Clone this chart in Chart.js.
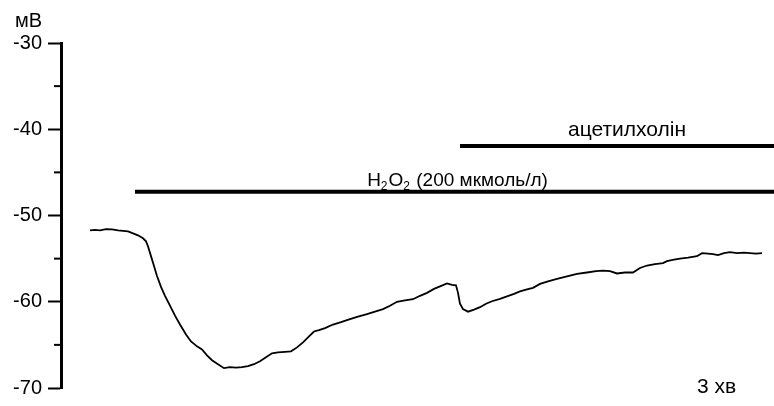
<!DOCTYPE html>
<html>
<head>
<meta charset="utf-8">
<script src="https://cdn.jsdelivr.net/npm/chart.js@4/dist/chart.umd.min.js"></script>
<style>
  html, body { margin: 0; background: #fff; }
  #wrap { width: 774px; height: 406px; }
</style>
</head>
<body>
<div id="wrap"><canvas id="c"></canvas></div>
<script>
/* membrane potential trace (time in arbitrary units) */
const timeT = [29, 34, 39, 45, 51, 57, 62, 67, 72, 77, 82, 85, 87, 90, 93, 96, 100, 104, 109, 114, 119, 125, 130, 136, 141, 146,
  151, 157, 163, 169, 175, 181, 187, 193, 199, 205, 211, 217, 224, 230, 236, 242, 248, 253, 258, 264, 272, 280, 289, 297, 306,
  314, 322, 329, 336, 344, 352, 359, 366, 373, 379, 386, 391, 395, 397, 399, 402, 407, 413, 419, 425, 431, 439, 446, 453, 459,
  466, 472, 479, 487, 496, 506, 516, 526, 535, 542, 549, 556, 564, 572, 579, 586, 594, 602, 606, 613, 619, 627, 636, 641, 647,
  652, 657, 663, 669, 676, 683, 689, 695, 701];
const membraneMv = [-51.72, -51.67, -51.72, -51.57, -51.61, -51.72, -51.78, -51.84, -52.07, -52.30, -52.64, -52.99, -53.56, -54.71, -55.86, -57.01, -58.28, -59.31, -60.46, -61.61, -62.64, -63.79, -64.60, -65.17, -65.52, -66.21,
  -66.78, -67.24, -67.70, -67.59, -67.64, -67.59, -67.47, -67.24, -66.90, -66.44, -65.98, -65.86, -65.80, -65.75, -65.29, -64.71, -64.02, -63.45, -63.28, -63.05, -62.64, -62.36, -62.01, -61.72, -61.44,
  -61.15, -60.86, -60.46, -60.00, -59.83, -59.71, -59.31, -58.97, -58.51, -58.22, -57.87, -58.05, -58.10, -58.97, -60.23, -60.86, -61.15, -60.92, -60.63, -60.23, -59.94, -59.66, -59.37, -59.08, -58.79,
  -58.56, -58.39, -57.93, -57.64, -57.36, -57.07, -56.78, -56.61, -56.44, -56.38, -56.44, -56.72, -56.61, -56.61, -56.09, -55.80, -55.63, -55.52, -55.29, -55.11, -55.00, -54.89, -54.72, -54.37, -54.43,
  -54.48, -54.60, -54.37, -54.25, -54.37, -54.31, -54.37, -54.43, -54.37];

/* application bars */
const h2o2Span = [74, 713];
const h2o2Level = -47.25;
const achSpan = [399, 713];
const achLevel = -41.95;

const yMin = -70, yMax = -30, yStep = 5;
const tMax = 713;

const FONT = "Arial, 'Liberation Sans', sans-serif";

function $(id){ return document.getElementById(id); }

const drawExtras = {
  id: "drawExtras",
  afterDraw(chart) {
    const ctx = chart.ctx;
    const y = chart.scales.y, x = chart.scales.x;
    ctx.save();
    ctx.fillStyle = "#000";
    ctx.strokeStyle = "#000";

    // short minor ticks
    ctx.lineWidth = 2;
    y.ticks.forEach(t => {
      if (t.value % 10 === 0) return;
      const py = y.getPixelForValue(t.value);
      ctx.beginPath();
      ctx.moveTo(y.right - 7, py);
      ctx.lineTo(y.right, py);
      ctx.stroke();
    });

    // unit
    ctx.font = "20px " + FONT;
    ctx.textAlign = "right";
    ctx.textBaseline = "alphabetic";
    ctx.fillText("мВ", y.right - 19, y.top - 16);

    // acetylcholine label
    ctx.font = "21px " + FONT;
    ctx.textAlign = "center";
    const achCx = (x.getPixelForValue(achSpan[0]) + x.getPixelForValue(achSpan[1])) / 2 + 10;
    ctx.fillText("ацетилхолін", achCx, y.getPixelForValue(achLevel) - 10);

    // H2O2 label with subscripts
    const big = "19px " + FONT, small = "12px " + FONT;
    const parts = [["H", big, 0], ["2", small, 4], ["O", big, 0], ["2", small, 4], [" (200 мкмоль/л)", big, 0]];
    let w = 0;
    parts.forEach(p => { ctx.font = p[1]; w += ctx.measureText(p[0]).width; });
    let cx = (x.getPixelForValue(h2o2Span[0]) + x.getPixelForValue(h2o2Span[1])) / 2 - w / 2 + 2;
    const by = y.getPixelForValue(h2o2Level) - 6;
    ctx.textAlign = "left";
    parts.forEach(p => {
      ctx.font = p[1];
      ctx.fillText(p[0], cx, by + p[2]);
      cx += ctx.measureText(p[0]).width + (p[1] === small ? 1 : 0);
    });

    // time note
    ctx.font = "21px " + FONT;
    ctx.textBaseline = "middle";
    ctx.fillText("3 хв", 697, y.getPixelForValue(yMin) - 1);
    ctx.restore();
  }
};

new Chart($("c"), {
  type: "line",
  data: {
    datasets: [
      {
        label: "trace",
        data: timeT.map((t, i) => ({ x: t, y: membraneMv[i] })),
        borderColor: "#000",
        borderWidth: 1.8,
        pointRadius: 0,
        tension: 0
      },
      {
        label: "H2O2",
        data: h2o2Span.map(t => ({ x: t, y: h2o2Level })),
        borderColor: "#000",
        borderWidth: 4,
        pointRadius: 0
      },
      {
        label: "ach",
        data: achSpan.map(t => ({ x: t, y: achLevel })),
        borderColor: "#000",
        borderWidth: 4,
        pointRadius: 0
      }
    ]
  },
  options: {
    responsive: true,
    maintainAspectRatio: false,
    animation: false,
    layout: { padding: { top: 43, bottom: 15, left: 0, right: 0 } },
    plugins: { legend: { display: false }, tooltip: { enabled: false } },
    scales: {
      x: { type: "linear", min: 0, max: tMax, display: false },
      y: {
        type: "linear",
        min: yMin, max: yMax,
        afterFit: s => { s.width = 61; },
        border: { display: true, width: 3, color: "#000" },
        grid: {
          drawOnChartArea: false,
          tickLength: 13,
          tickWidth: 2,
          tickColor: c => (c.tick && c.tick.value % 10 === 0) ? "#000" : "rgba(0,0,0,0)"
        },
        ticks: {
          stepSize: yStep,
          padding: 6,
          color: "#000",
          font: { family: FONT, size: 20 },
          callback: v => (v % 10 === 0 ? String(v) : "")
        }
      }
    }
  },
  plugins: [drawExtras]
});
</script>
</body>
</html>
